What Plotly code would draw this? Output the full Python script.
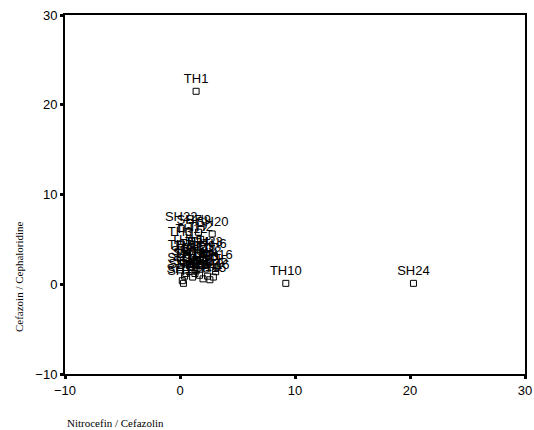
import plotly.graph_objects as go

labels = ["TH1", "TH10", "SH24", "SH22", "SH7", "SH9", "SH20", "TH2", "TH12", "TH3",
          "TH15", "TH4", "SH23", "TH6", "TH7", "TH8", "TH9", "SH21", "TH11", "SH1",
          "SH2", "SH19", "TH13", "TH14", "TH16", "SH3", "SH5", "SH4", "TH5", "SH18",
          "SH6", "SH12", "SH16", "SH8", "SH13", "SH10", "SH14", "SH15", "SH11", "SH17"]
x_vals = [1.4, 9.2, 20.3, 0.1, 0.8, 1.6, 2.8, 1.8, 1.0, 0.0,
          0.6, 1.5, 2.3, 3.0, 0.0, 0.6, 2.0, 1.5, 1.2, 0.3,
          2.5, 0.8, 0.9, 1.9, 3.2, 0.0, 2.2, 1.4, 3.1, 1.3,
          0.5, 0.4, 2.9, 1.7, 1.1, 2.4, 2.0, 2.6, 0.2, 0.3]
y_vals = [21.5, 0.1, 0.1, 6.2, 5.8, 5.8, 5.6, 5.0, 4.8, 4.5,
          3.6, 3.4, 3.4, 3.1, 3.0, 2.9, 2.9, 2.7, 2.6, 2.4,
          2.4, 2.2, 2.0, 2.1, 1.9, 1.6, 1.7, 1.5, 1.4, 1.2,
          1.2, 0.9, 0.8, 1.0, 0.8, 0.9, 0.6, 0.5, 0.4, 0.1]
x_title = "Nitrocefin / Cefazolin"
y_title = "Cefazoin / Cephaloridine"
tick_vals = [-10, 0, 10, 20, 30]

fig = go.Figure(go.Scatter(
    x=x_vals, y=y_vals, mode="markers+text", text=labels,
    textposition="top center",
    textfont=dict(family="Liberation Sans, Arial", size=13, color="black"),
    marker=dict(symbol="square-open", size=6, color="black", line=dict(width=1)),
    cliponaxis=False, hoverinfo="skip"))

axis_common = dict(range=[-10, 30], tickvals=tick_vals, showgrid=False, zeroline=False,
                   showline=True, linecolor="black", linewidth=2, mirror=True,
                   ticks="outside", ticklen=3, tickwidth=3, tickcolor="black",
                   automargin=False,
                   tickfont=dict(family="Liberation Sans, Arial", size=13, color="black"))
fig.update_xaxes(**axis_common)
fig.update_yaxes(**axis_common)

fig.update_layout(
    width=534, height=430, showlegend=False,
    margin=dict(l=65, r=9, t=15, b=56, autoexpand=False),
    plot_bgcolor="white", paper_bgcolor="white",
    annotations=[
        dict(text=x_title, xref="paper", yref="paper", x=0.0, y=-0.137,
             xanchor="left", yanchor="middle", showarrow=False,
             font=dict(family="Liberation Serif, Times New Roman", size=11, color="black")),
        dict(text=y_title, xref="paper", yref="paper", x=-0.1, y=0.27,
             xanchor="center", yanchor="middle", showarrow=False, textangle=-90,
             font=dict(family="Liberation Serif, Times New Roman", size=11, color="black")),
    ])

fig.write_html("out.html", config={"displayModeBar": False},
               post_script="document.body.style.margin='0';document.body.style.overflow='hidden';")
